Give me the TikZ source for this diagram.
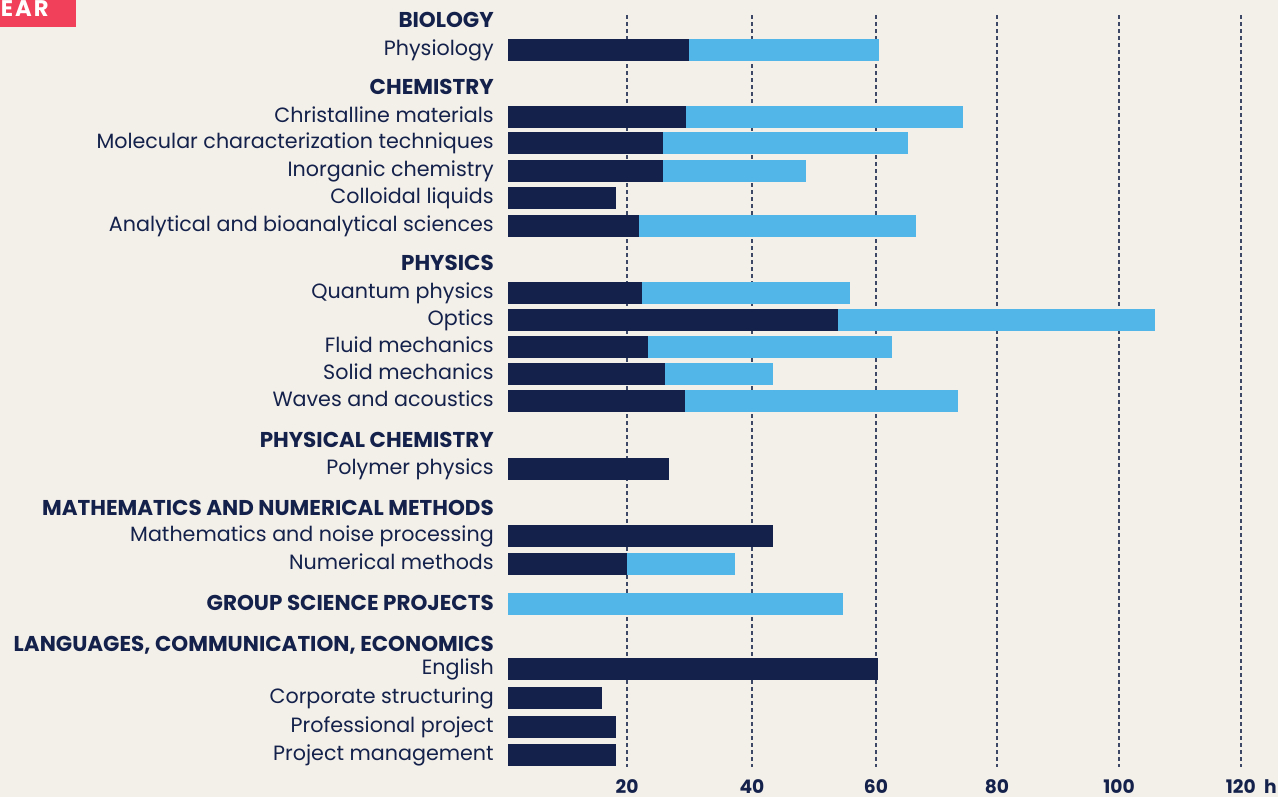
\documentclass[tikz,border=0pt]{standalone}
\usepackage{fontspec}
\setmainfont{Poppins}
\definecolor{navy}{HTML}{14224B}
\definecolor{sky}{HTML}{52B6E8}
\definecolor{bgc}{HTML}{F3EFE9}
\definecolor{redc}{HTML}{F0405A}
\definecolor{gridc}{HTML}{3D4766}
\newcommand\mybar[4]{%
  \fill[dk] (508,#1) rectangle (#2,{#1+22});
  \ifdim #3pt>#2pt \fill[lt] (#2,#1) rectangle (#3,{#1+22}); \fi
  \node[lab] (l#1) at (494,{#1+16.5}) {#4};}
\begin{document}
\begin{tikzpicture}[x=0.75pt,y=-0.75pt,
  lab/.style={anchor=base east,text=navy,font=\fontsize{15.5}{16}\selectfont,inner sep=0},
  head/.style={anchor=base east,text=navy,font=\bfseries\fontsize{16.1}{17}\selectfont,inner sep=0},
  ax/.style={anchor=base,text=navy,font=\bfseries\fontsize{14}{14}\selectfont,inner sep=0},
  dk/.style={fill=navy},
  lt/.style={fill=sky},
  gridline/.style={draw=gridc,line width=1.1pt,dash pattern=on 3pt off 2.25pt}]
\fill[bgc] (0,0) rectangle (1278,797);
\useasboundingbox (0,0) rectangle (1278,797);
% grid
\foreach \gx in {627,752,876,997,1119,1241} \draw[gridline] (\gx,15) -- (\gx,767);
% corner tag
\fill[redc] (0,0) rectangle (76,27);
\node[anchor=base west,text=white,font=\bfseries\fontsize{17}{17}\selectfont\addfontfeature{LetterSpace=9},inner sep=0] (tag) at (0.5,16.5) {EAR};
% headings
\node[head] (h1) at (494,27) {BIOLOGY};
\node[head] (h2) at (494,94) {CHEMISTRY};
\node[head] (h3) at (494,270.5) {PHYSICS};
\node[head] (h4) at (494,447) {PHYSICAL CHEMISTRY};
\node[head] (h5) at (494,515.5) {MATHEMATICS AND NUMERICAL METHODS};
\node[head] (h6) at (494,610) {GROUP SCIENCE PROJECTS};
\node[head] (h7) at (494,651) {LANGUAGES, COMMUNICATION, ECONOMICS};
% bars
\mybar{39}{689}{879}{Physiology}
\mybar{105.5}{686}{963}{Christalline materials}
\mybar{132}{663}{908}{Molecular characterization techniques}
\mybar{160}{663}{806}{Inorganic chemistry}
\mybar{187}{616}{616}{Colloidal liquids}
\mybar{215}{639}{916}{Analytical and bioanalytical sciences}
\mybar{282}{642}{850}{Quantum physics}
\mybar{309}{838}{1155}{Optics}
\mybar{336}{648}{892}{Fluid mechanics}
\mybar{363}{665}{773}{Solid mechanics}
\mybar{390}{685}{958}{Waves and acoustics}
\mybar{458}{669}{669}{Polymer physics}
\mybar{525}{773}{773}{Mathematics and noise processing}
\mybar{553}{627}{735}{Numerical methods}
\fill[lt] (508,593) rectangle (843,615);
\mybar{658}{878}{878}{English}
\mybar{687}{602}{602}{Corporate structuring}
\mybar{716}{616}{616}{Professional project}
\mybar{744}{616}{616}{Project management}
% axis labels
\node[ax] (a20) at (627,793) {20};
\node[ax] (a40) at (752,793) {40};
\node[ax] (a60) at (876,793) {60};
\node[ax] (a80) at (997,793) {80};
\node[ax] (a100) at (1119,793) {100};
\node[ax,anchor=base east] (a120) at (1277,793) {120\hspace{0.45em}h};
\end{tikzpicture}
\end{document}
